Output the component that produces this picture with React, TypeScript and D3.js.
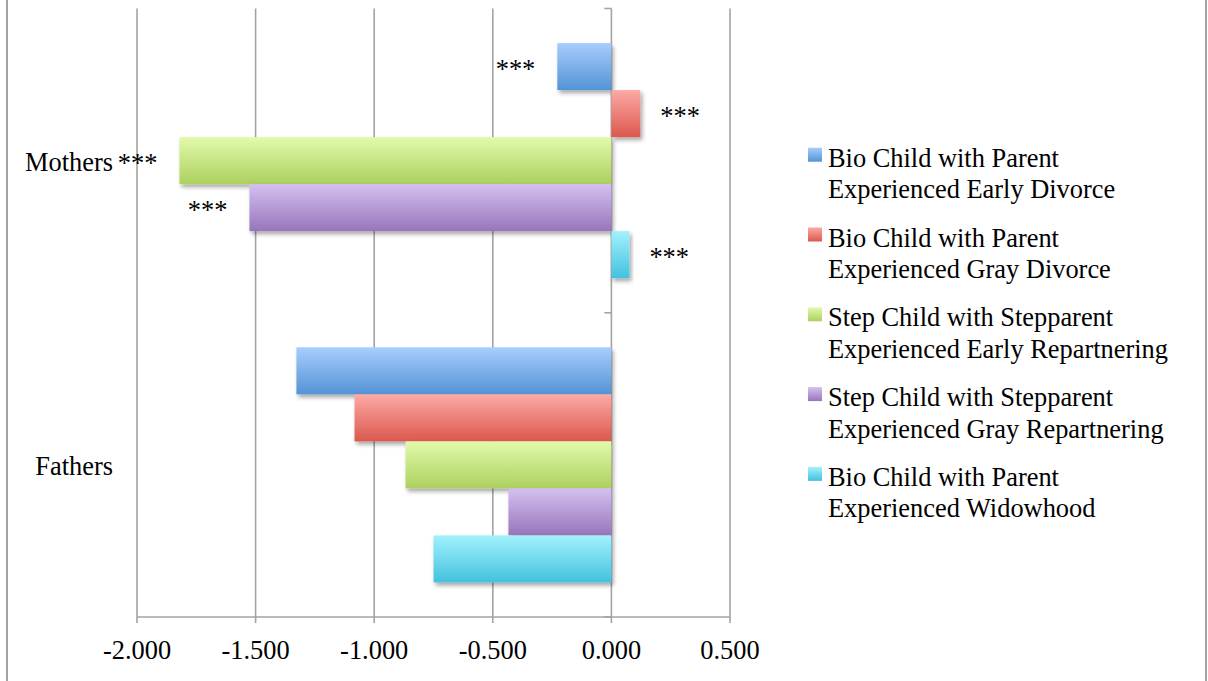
import React from "react";
import * as d3 from "d3";

const groups = ["Mothers", "Fathers"];
const seriesNames = [
  ["Bio Child with Parent", "Experienced Early Divorce"],
  ["Bio Child with Parent", "Experienced Gray Divorce"],
  ["Step Child with Stepparent", "Experienced Early Repartnering"],
  ["Step Child with Stepparent", "Experienced Gray Repartnering"],
  ["Bio Child with Parent", "Experienced Widowhood"],
];
const mothersValues = [-0.228, 0.122, -1.821, -1.526, 0.076];
const fathersValues = [-1.328, -1.083, -0.868, -0.434, -0.75];
const mothersSig = ["***", "***", "***", "***", "***"];
const fathersSig = ["", "", "", "", ""];
const xTicks = [-2, -1.5, -1, -0.5, 0, 0.5];

const gradTop = ["#a8cdfd", "#fcaaa5", "#e2faab", "#d4c0f1", "#a2f1fd"];
const gradBottom = ["#5393d6", "#db584d", "#acd05f", "#9775bb", "#43c1de"];

const W = 1208;
const H = 681;
const FONT = "'Liberation Serif', 'Times New Roman', serif";
const FS = 26.4;

const fmt = d3.formatLocale({ decimal: ".", thousands: ",", grouping: [3], currency: ["", ""], minus: "-" }).format(".3f");

export default function App() {
  const x = d3.scaleLinear().domain([-2, 0.5]).range([137, 730]);
  const y = d3.scaleBand<string>().domain(groups).range([8.5, 617]).paddingInner(0).paddingOuter(0);
  const inner = d3
    .scaleBand<number>()
    .domain(d3.range(seriesNames.length))
    .range([0, y.bandwidth()])
    .paddingInner(0)
    .paddingOuter(0.735);

  const data = [
    { group: "Mothers", values: mothersValues, sig: mothersSig },
    { group: "Fathers", values: fathersValues, sig: fathersSig },
  ];
  const x0 = x(0);
  const [yTop, yBot] = y.range();
  const grid = "#a3a3a3";

  return (
    <svg
      width={W}
      height={H}
      style={{ position: "absolute", left: 0, top: 0, background: "#fff" }}
      fontFamily={FONT}
    >
      <defs>
        {gradTop.map((c, i) => (
          <linearGradient key={i} id={`g${i}`} x1="0" y1="0" x2="0" y2="1">
            <stop offset="0%" stopColor={c} />
            <stop offset="100%" stopColor={gradBottom[i]} />
          </linearGradient>
        ))}
        <filter id="shadow" x="-10%" y="-20%" width="130%" height="160%">
          <feDropShadow dx="2" dy="3" stdDeviation="2" floodColor="#000" floodOpacity="0.35" />
        </filter>
      </defs>

      {/* outer border */}
      <line x1={7} x2={7} y1={0} y2={H} stroke={grid} strokeWidth={2} />
      <line x1={1206} x2={1206} y1={0} y2={H} stroke={grid} strokeWidth={2} />

      {/* gridlines */}
      {xTicks.map((t) => (
        <line key={t} x1={x(t)} x2={x(t)} y1={yTop} y2={yBot + 6} stroke={grid} strokeWidth={1.6} />
      ))}
      {/* bottom axis */}
      <line x1={x(-2)} x2={x(0.5)} y1={yBot} y2={yBot} stroke={grid} strokeWidth={1.6} />
      {xTicks.map((t) => (
        <text key={t} x={x(t)} y={659} textAnchor="middle" fontSize={FS} fill="#000">
          {fmt(t)}
        </text>
      ))}

      {/* vertical category axis ticks at zero */}
      {[yTop, yTop + y.step(), yBot].map((v, i) => (
        <line key={i} x1={x0 - 7} x2={x0} y1={v} y2={v} stroke={grid} strokeWidth={1.6} />
      ))}

      {/* bars */}
      {data.map((d) => (
        <g key={d.group}>
          {d.values.map((v, i) => {
            const yy = (y(d.group) as number) + (inner(i) as number);
            const h = inner.bandwidth();
            const xa = Math.min(x(v), x0);
            const w = Math.abs(x(v) - x0);
            return (
              <rect
                key={i}
                x={xa}
                y={yy}
                width={w}
                height={h}
                fill={`url(#g${i})`}
                filter="url(#shadow)"
              />
            );
          })}
        </g>
      ))}

      {/* significance labels */}
      {data.map((d) => (
        <g key={d.group + "sig"}>
          {d.values.map((v, i) => {
            if (!d.sig[i]) return null;
            const cy = (y(d.group) as number) + (inner(i) as number) + inner.bandwidth() / 2;
            const neg = v < 0;
            return (
              <text
                key={i}
                x={neg ? x(v) - 22 : x(v) + 20}
                y={cy + 11}
                textAnchor={neg ? "end" : "start"}
                fontSize={FS}
                fill="#000"
              >
                {d.sig[i]}
              </text>
            );
          })}
        </g>
      ))}

      {/* category labels */}
      {groups.map((g) => (
        <text
          key={g}
          x={113}
          y={(y(g) as number) + y.bandwidth() / 2 + 10}
          textAnchor="end"
          fontSize={FS}
          fill="#000"
        >
          {g}
        </text>
      ))}

      {/* legend */}
      {seriesNames.map((lines, i) => {
        const base = 166.7 + i * 79.8;
        return (
          <g key={i}>
            <rect x={808} y={base - 19} width={14} height={14} fill={`url(#g${i})`} />
            {lines.map((l, j) => (
              <text key={j} x={828} y={base + j * 31.5} fontSize={FS} fill="#000">
                {l}
              </text>
            ))}
          </g>
        );
      })}
    </svg>
  );
}
